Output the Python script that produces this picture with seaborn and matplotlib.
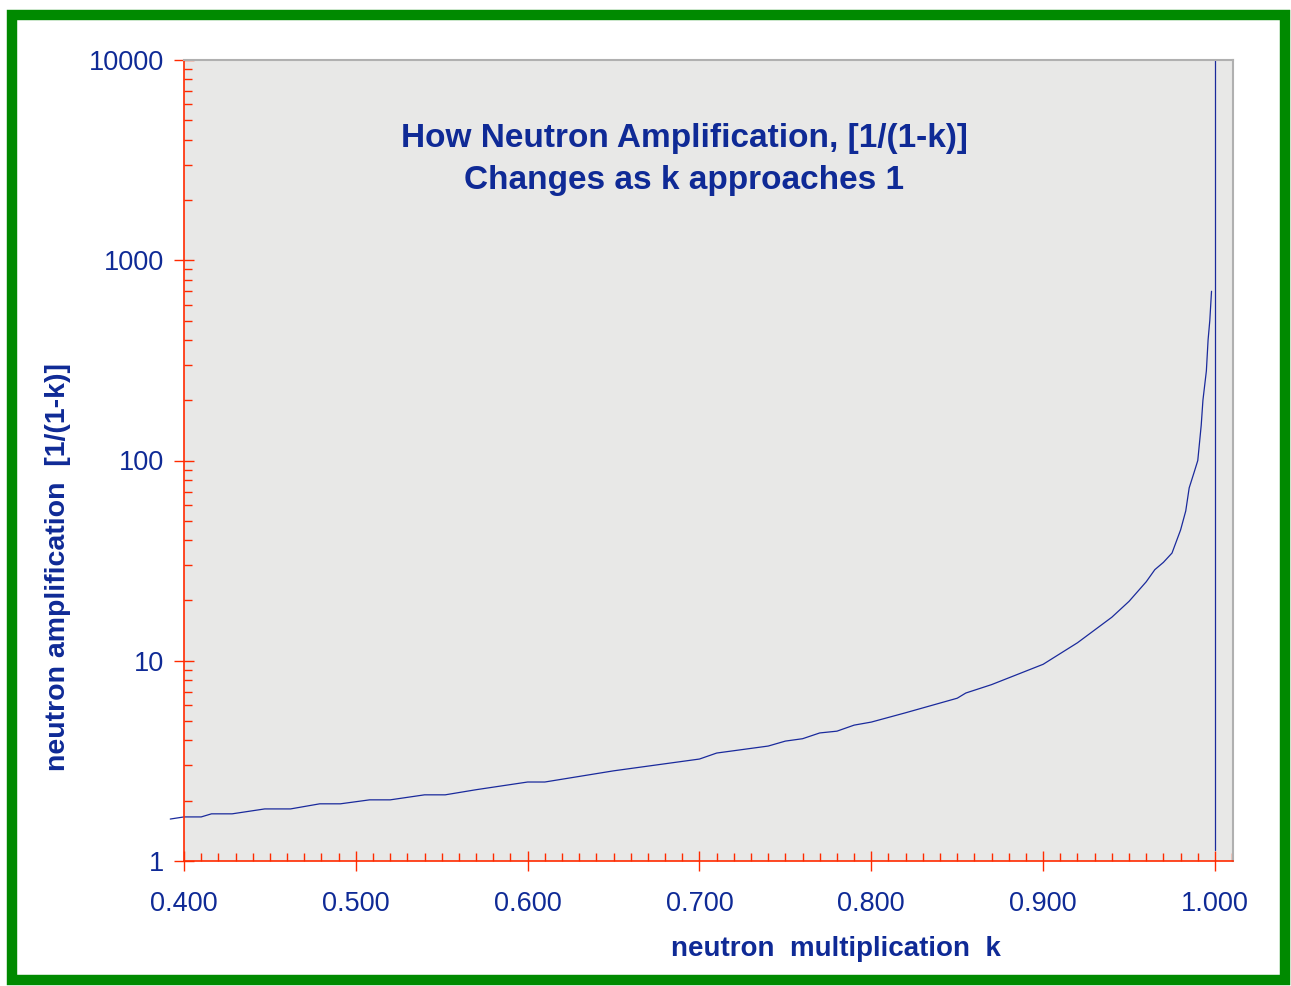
import numpy as np
import pandas as pd
import matplotlib
matplotlib.use("Agg")
import matplotlib.pyplot as plt
from matplotlib.patches import Rectangle
from matplotlib.ticker import FixedLocator, LogLocator, NullFormatter
import seaborn as sns

# values
k_vals = [0.392, 0.400, 0.410, 0.416, 0.428, 0.447, 0.462, 0.479, 0.491, 0.508, 0.520,
          0.540, 0.552, 0.570, 0.600, 0.610, 0.650, 0.700, 0.710, 0.740, 0.750,
          0.760, 0.770, 0.780, 0.790, 0.800, 0.820, 0.850, 0.855, 0.870, 0.900,
          0.920, 0.940, 0.950, 0.960, 0.965, 0.970, 0.975, 0.980, 0.983, 0.985,
          0.988, 0.990, 0.992, 0.993, 0.995, 0.996, 0.997, 0.998]
amp_vals = [1.62, 1.66, 1.66, 1.72, 1.72, 1.82, 1.82, 1.93, 1.93, 2.02, 2.02,
            2.14, 2.14, 2.27, 2.48, 2.48, 2.82, 3.23, 3.46, 3.75, 3.97,
            4.08, 4.36, 4.45, 4.77, 4.94, 5.5, 6.5, 6.9, 7.6, 9.6,
            12.3, 16.5, 19.8, 24.8, 28.5, 31.0, 34.5, 45.0, 56.0, 73.0,
            88.0, 100.0, 150.0, 200.0, 280.0, 400.0, 500.0, 700.0]
k_limit = [1.0, 1.0]
amp_limit = [1.13, 10000]

x_ticks = [0.4, 0.5, 0.6, 0.7, 0.8, 0.9, 1.0]
x_ticklabels = ["0.400", "0.500", "0.600", "0.700", "0.800", "0.900", "1.000"]
y_ticks = [1, 10, 100, 1000, 10000]
y_ticklabels = ["1", "10", "100", "1000", "10000"]

navy = "#0f2a96"
red = "#ff2a00"

sns.set_style("white")
plt.rcParams["font.family"] = ["Liberation Sans", "DejaVu Sans"]

df = pd.DataFrame({"k": k_vals, "amp": amp_vals})

fig = plt.figure(figsize=(12.91, 9.86), dpi=100)
ax = fig.add_axes([184 / 1291, 125 / 986, (1233 - 184) / 1291, (861 - 60) / 986])
ax.set_facecolor("#e8e8e7")

sns.lineplot(data=df, x="k", y="amp", ax=ax, color="#1a2a9c", linewidth=0.9,
             estimator=None, sort=False)
ax.lines[-1].set_clip_on(False)
ax.plot(k_limit, amp_limit, color="#1a2a9c", linewidth=0.9)

ax.set_yscale("log")
ax.set_xlim(0.4, 1.0105)
ax.set_ylim(1, 10000)

ax.set_xticks(x_ticks)
ax.set_xticklabels(x_ticklabels)
ax.xaxis.set_minor_locator(FixedLocator(np.arange(0.41, 1.01, 0.01)))
ax.set_yticks(y_ticks)
ax.set_yticklabels(y_ticklabels)
ax.yaxis.set_minor_locator(LogLocator(base=10, subs=np.arange(2, 10)))
ax.yaxis.set_minor_formatter(NullFormatter())

ax.tick_params(axis="both", which="major", direction="inout", length=15, width=1,
               color=red, labelcolor=navy, labelsize=19.5, bottom=True, left=True)
ax.tick_params(axis="both", which="minor", direction="in", length=6, width=1,
               color=red, bottom=True, left=True)
ax.tick_params(axis="x", which="major", pad=14)
ax.tick_params(axis="y", which="major", pad=7)

for side in ["left", "bottom"]:
    ax.spines[side].set_color(red)
    ax.spines[side].set_linewidth(1.2)
for side in ["top", "right"]:
    ax.spines[side].set_color("#b0b0b0")
    ax.spines[side].set_linewidth(1.5)

ax.set_xlabel("neutron  multiplication  k", color=navy, fontsize=20,
              fontweight="bold")
ax.set_ylabel("neutron amplification  [1/(1-k)]", color=navy, fontsize=20.5,
              fontweight="bold")
ax.xaxis.set_label_coords(0.6216, -0.094)
ax.yaxis.set_label_coords(-0.108, 0.367)

ax.text(0.477, 0.921, "How Neutron Amplification, [1/(1-k)]\nChanges as k approaches 1",
        transform=ax.transAxes, ha="center", va="top", color=navy, fontsize=24,
        fontweight="bold", linespacing=1.45)

# green frame around the whole figure
fig.patches.append(Rectangle((12 / 1291, 6 / 986), 1273 / 1291, 965 / 986,
                             transform=fig.transFigure, fill=False,
                             edgecolor="#008a00", linewidth=7.5))

fig.savefig("out.png", dpi=100)
